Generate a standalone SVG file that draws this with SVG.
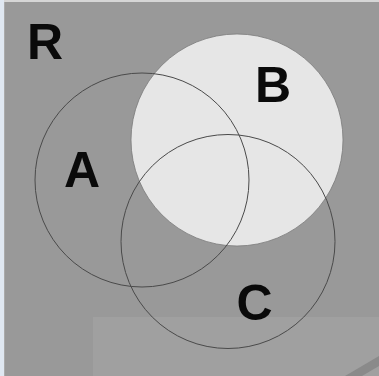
<svg xmlns="http://www.w3.org/2000/svg" width="379" height="376" viewBox="0 0 379 376">
  <style>
    .ring { fill: none; stroke: #4a4a4a; stroke-width: 1; }
    .lbl { font-family: "Liberation Sans", Arial, sans-serif; font-weight: bold; font-size: 50px; fill: #0a0a0a; text-anchor: middle; }
  </style>
  <g id="background">
    <rect x="0" y="0" width="379" height="376" fill="#999999"/>
    <rect x="0" y="0" width="379" height="2" fill="#d6d6d6"/>
    <rect x="0" y="0" width="4" height="376" fill="#dfe7f1"/>
    <rect x="4" y="2" width="1" height="374" fill="#aaaaaa"/>
    <rect x="93" y="317" width="286" height="59" fill="#a0a0a0"/>
    <polygon points="345,376 379,356 379,366 362,376" fill="#8a8a8a"/>
  </g>
  <g id="node-R">
    <text class="lbl" x="45" y="59">R</text>
  </g>
  <g id="node-B">
    <circle cx="237" cy="140" r="106" fill="#e6e6e6" stroke="#7a7a7a" stroke-width="0.8"/>
    <text class="lbl" x="273" y="102">B</text>
  </g>
  <g id="node-A">
    <circle class="ring" cx="142" cy="180" r="107"/>
    <text class="lbl" x="82" y="187">A</text>
  </g>
  <g id="node-C">
    <circle class="ring" cx="228" cy="241.5" r="107"/>
    <text class="lbl" x="254.5" y="320">C</text>
  </g>
  <g id="connectors"></g>
</svg>
